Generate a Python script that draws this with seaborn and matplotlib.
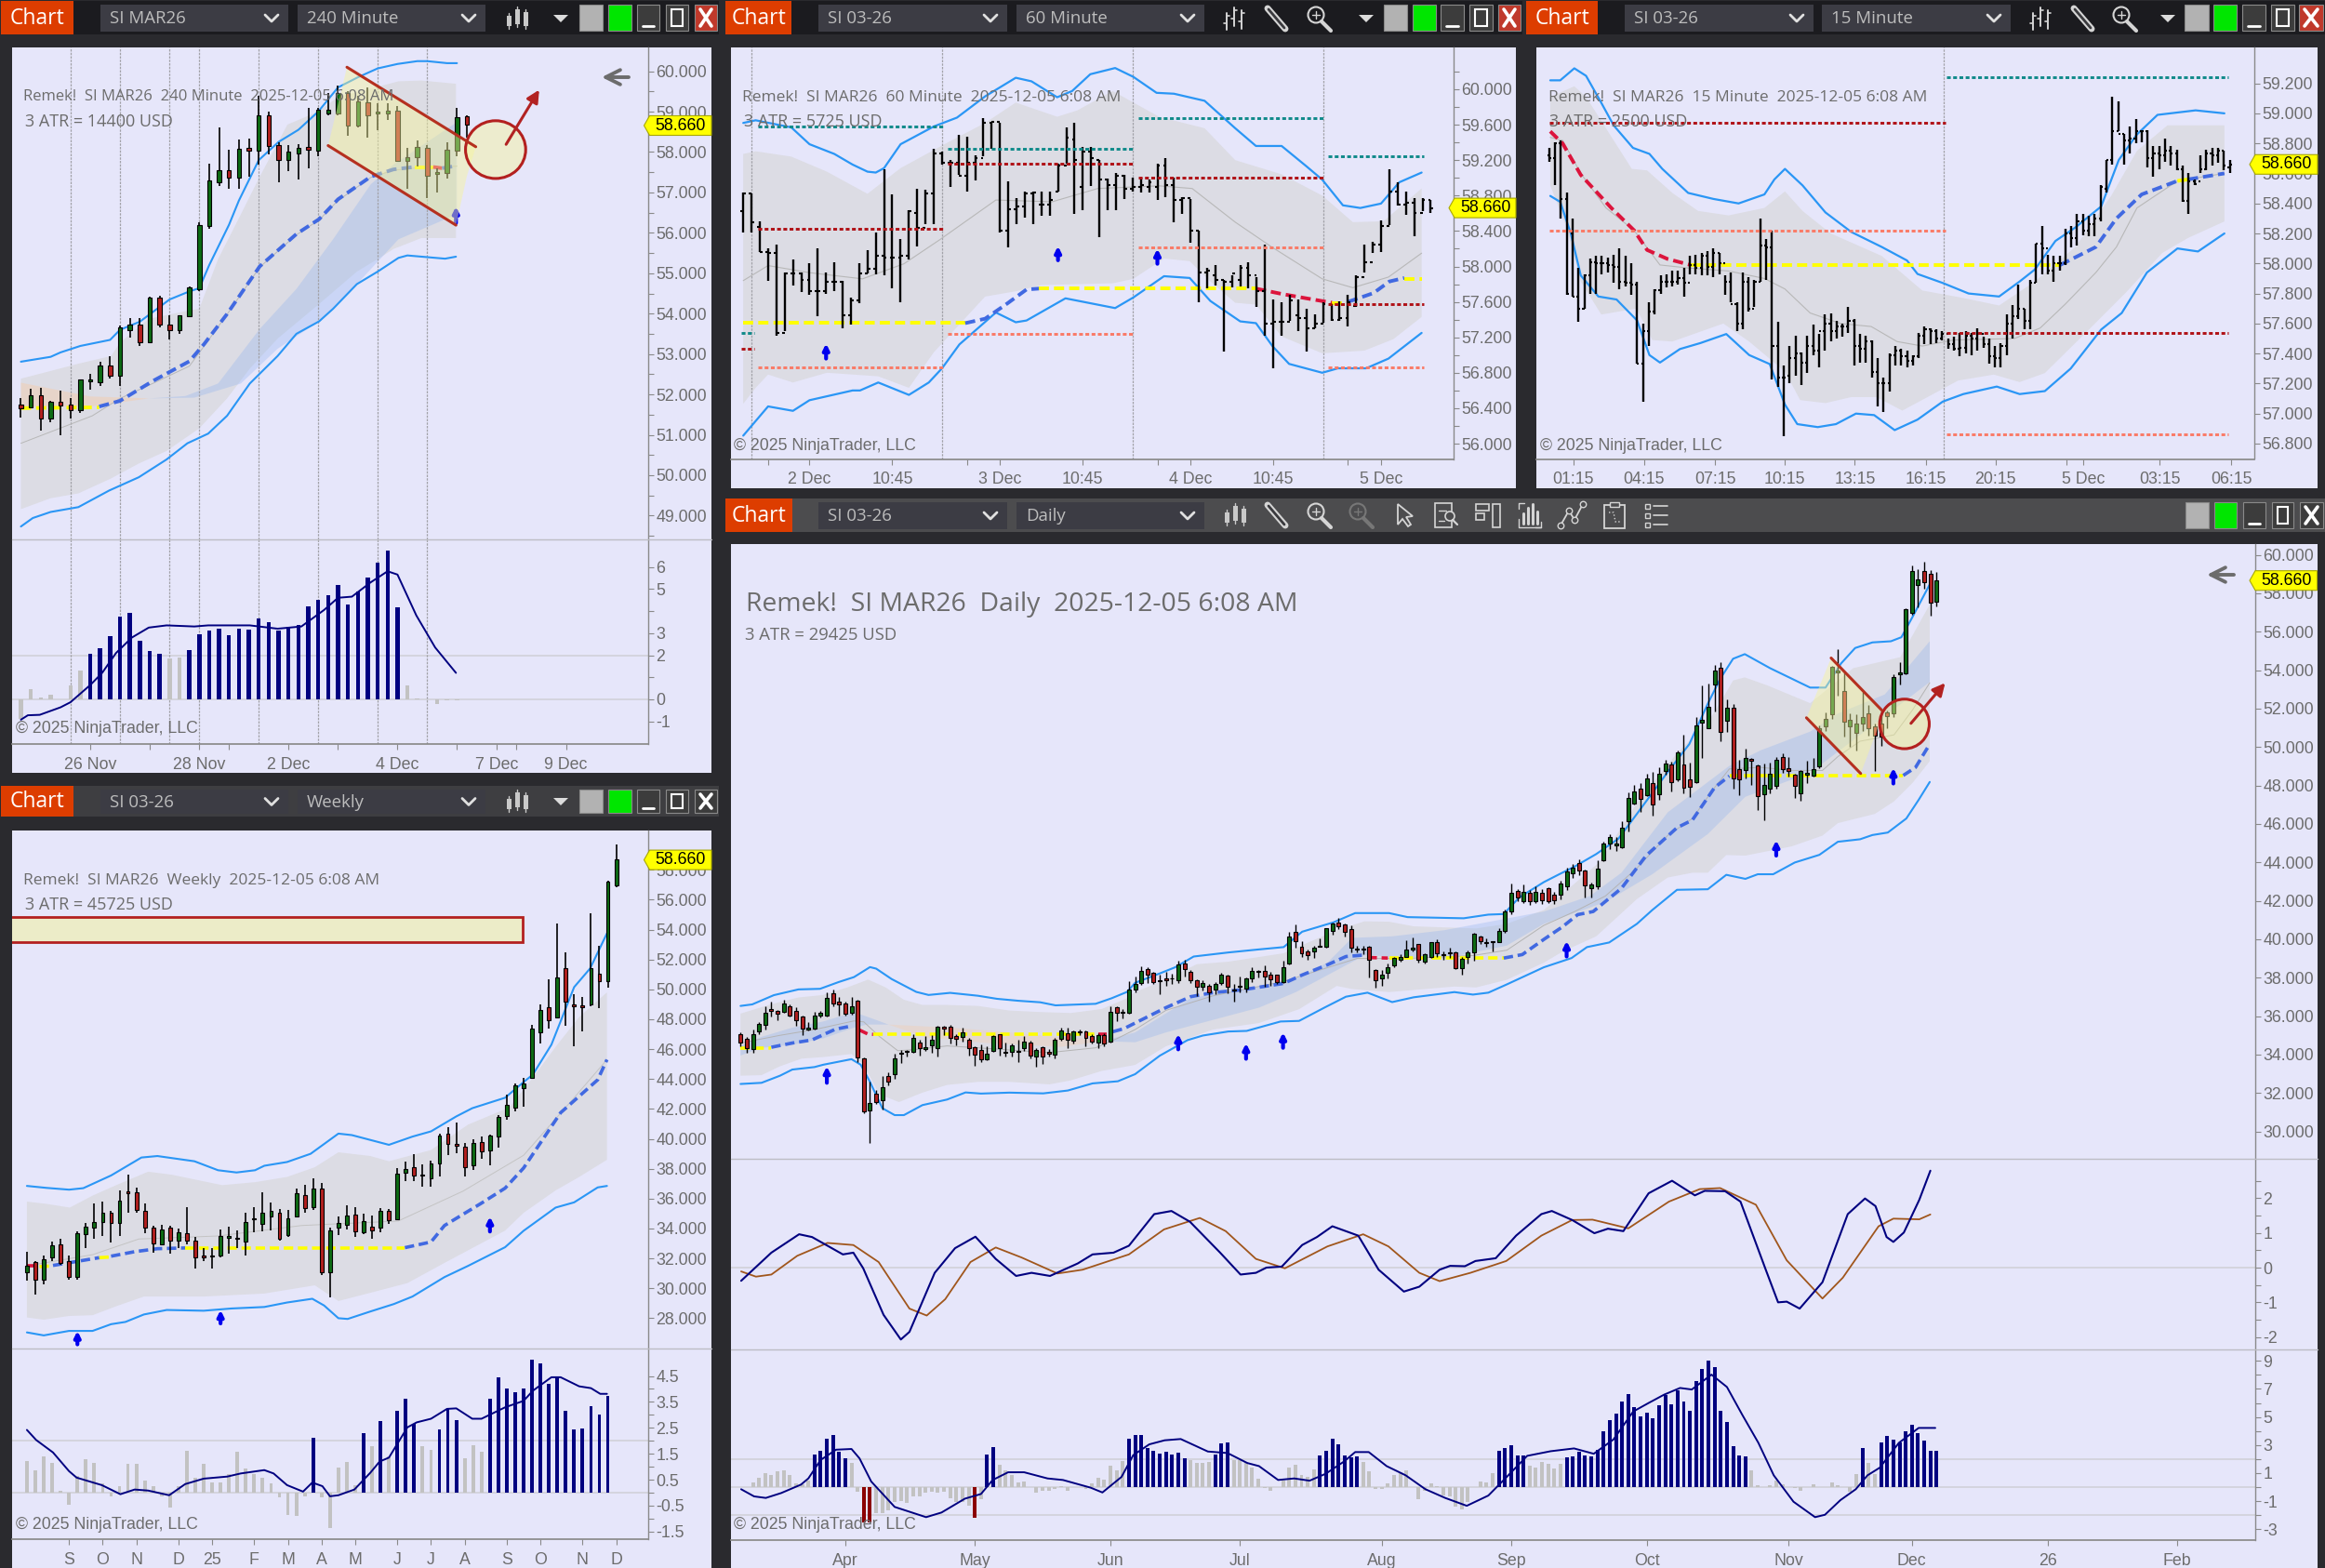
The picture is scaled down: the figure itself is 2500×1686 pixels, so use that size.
import numpy as np
import seaborn as sns
import matplotlib.pyplot as plt
from matplotlib.patches import Rectangle, Polygon, Ellipse
from matplotlib.ticker import FixedLocator, NullLocator

# ---- 240 minute
h4_open = [51.76,51.68,51.98,51.41,51.82,51.75,51.6,52.32,52.3,52.72,52.46,53.58,53.72,53.28,54.4,53.72,53.6,53.93,54.6,56.18,57.25,57.55,57.37,58.1,58.03,58.9,58.17,57.8,57.97,58.12,58.03,58.95,58.95,59.45,58.65,59.22,58.95,58.95,59.03,57.78,57.88,58.1,57.45,57.47,58.03,58.88]
h4_close = [51.65,51.98,51.41,51.82,51.72,51.6,52.37,52.37,52.72,52.46,53.65,53.72,53.28,54.4,53.72,53.6,53.95,54.66,56.2,57.3,57.55,57.37,58.07,58.03,58.9,58.15,57.8,58.0,58.1,58.05,59.05,59.05,59.45,58.65,59.25,58.9,59.0,59.03,57.78,57.88,58.12,57.42,57.5,58.05,58.87,58.68]
h4_high = [51.9,52.13,52.17,51.85,52.1,51.9,52.37,52.5,52.8,52.95,53.7,53.88,53.88,54.42,54.45,53.95,53.97,54.68,56.27,57.72,58.62,58.05,58.32,58.33,59.4,59.0,58.25,58.18,58.2,59.1,59.1,59.45,59.65,59.5,59.4,59.6,59.2,59.2,59.15,58.1,58.28,58.17,57.6,58.25,59.1,58.92]
h4_low = [51.43,51.65,51.1,51.3,50.98,51.4,51.55,52.12,52.2,52.4,52.22,53.4,53.2,53.27,53.65,53.35,53.5,53.93,54.55,56.1,57.15,57.08,57.1,57.38,57.7,57.95,57.25,57.53,57.33,57.6,57.9,58.9,58.9,58.4,58.6,58.35,58.55,58.8,57.75,57.1,57.65,56.85,57.0,57.35,57.9,58.35]
h4_upper_x = [0,3,4,6,9,10,12,15,17,18,19,21,22,24,26,28,30,32,34,36,38,40,41,43,44]
h4_upper = [52.81,52.93,53.04,53.2,53.35,53.6,53.8,54.35,54.55,54.63,55.2,56.2,56.8,57.8,58.25,58.55,59.0,59.6,59.85,60.07,60.18,60.25,60.25,60.2,60.2]
h4_lower_x = [0,1.2,3,5.8,8.9,11.9,14.7,16.8,18.9,20.8,23.1,25.9,27.8,30.1,31.5,33.9,36,38.1,39,40.9,42.8,43.9]
h4_lower = [48.73,48.94,49.09,49.21,49.62,49.95,50.39,50.79,51.03,51.47,52.27,52.95,53.5,53.81,54.12,54.73,55.04,55.38,55.44,55.4,55.36,55.41]
h4_band_up_x = [0,3,5.8,9.1,10,12.9,16.6,18,19.9,22.2,24.1,26.9,30,32,35.3,38.1,40.4,43.9]
h4_band_up = [52.39,52.58,52.76,52.95,53.28,53.87,54.06,54.12,55.35,56.46,57.39,58.68,59.0,59.36,59.57,59.75,59.77,59.69]
h4_band_lo_x = [0,3,5.8,9.1,11.9,14.7,18,20.8,23.1,25.9,30.1,33.9,36,37.6,40.4,43.9]
h4_band_lo = [49.16,49.43,49.55,49.92,50.29,50.6,51.16,51.9,52.64,53.38,54.24,55.04,55.35,55.6,55.87,55.87]
h4_cloud_up_x = [12.9,16.6,19.9,24.1,27.8,31.5,35.3,37.6,44]
h4_cloud_up = [51.9,51.96,52.27,53.62,54.61,55.84,57.2,57.69,58.74]
h4_cloud_lo_x = [12.9,17.5,22.2,25.9,30.1,33.9,38.1,44]
h4_cloud_lo = [51.9,51.92,52.27,53.13,53.81,54.73,55.84,56.46]
h4_peach_x = [0,7,12.9,7,0]
h4_peach = [52.29,51.95,51.9,51.7,51.7]
h4_mid_x = [0,7.2,10,13.3,17,18.5,20.8,24.1,27.8,30.1,32,35.3,37.6,39.7,44]
h4_mid = [50.79,51.47,51.9,52.27,52.7,53.2,53.98,55.15,55.95,56.32,56.8,57.37,57.55,57.6,57.65]
h4_trend = [("y",[0,7.9],[51.66,51.68]),
            ("b",[7.9,10,13.3,17,18.5,20.8,24.1,27.8,30.1,32,35.3,37.6,39.7],[51.7,51.84,52.33,52.82,53.25,53.99,55.17,55.97,56.34,56.83,57.39,57.57,57.63]),
            ("y",[39.7,41.6],[57.63,57.63]),("r",[41.6,42.5],[57.63,57.6]),("b",[42.5,44],[57.6,57.66])]
h4_sessions = [5,10,15,18,24,30,36,41]
h4_arrows = [(43.9,56.65,56.24)]
h4_hist = [-0.9,0.45,0.1,0.2,0,0.65,1.3,2.05,2.3,2.85,3.75,3.9,2.65,2.2,2.05,1.85,1.9,2.25,2.95,3.1,3.2,2.9,3.2,3.15,3.65,3.5,3.1,3.3,3.35,4.2,4.5,4.7,5.2,4.3,4.9,5.5,6.2,6.75,4.15,0.65,0.05,0,-0.2,-0.03,-0.03]
h4_sig_x = [0,0.7,1.9,4,5,7,8.2,9.6,11.2,12.9,14.7,17.5,18.9,23.1,25.9,28.3,30.6,32,33.4,35.3,37,38,39.9,41.8,43.9]
h4_sig = [-0.92,-0.72,-0.7,-0.36,-0.13,0.65,1.2,2.1,2.8,3.25,3.35,3.3,3.35,3.35,3.2,3.3,4.05,4.6,4.65,5.3,5.8,5.65,3.8,2.35,1.2]

# ---- 60 minute
m60_high = [58.83,58.82,58.51,58.2,58.25,57.93,58.08,57.93,58.04,58.2,57.93,58.05,57.84,57.65,58.04,58.18,58.38,59.1,58.81,58.31,58.63,58.88,58.87,59.33,59.3,59.2,59.49,59.46,59.25,59.67,59.63,59.62,58.96,58.77,58.84,58.84,58.84,58.84,59.16,59.57,59.62,59.35,59.35,59.2,58.99,59.05,59.03,59.0,59.0,58.98,59.16,59.22,59.0,58.78,58.76,58.4,57.98,58.02,57.85,57.9,58.02,58.05,57.88,58.25,57.63,57.6,57.68,57.63,57.52,57.46,57.6,57.57,57.61,57.68,57.9,58.25,58.28,58.52,59.1,58.95,58.84,58.77,58.77,58.75]
m60_low = [58.38,58.38,58.16,57.84,57.22,57.27,57.78,57.71,57.68,57.44,57.69,57.72,57.3,57.34,57.59,57.92,57.91,57.9,57.75,57.6,58.08,58.23,58.48,58.48,59.15,58.9,59.03,58.84,58.97,59.24,59.33,58.38,58.21,58.48,58.55,58.48,58.57,58.57,58.84,59.16,58.59,58.63,58.91,58.33,58.63,58.64,58.76,58.85,58.83,58.83,58.75,58.78,58.5,58.59,58.27,57.6,57.75,57.78,57.04,57.76,57.77,57.75,57.54,57.22,56.85,57.22,57.39,57.27,57.04,57.3,57.37,57.39,57.39,57.32,57.54,57.93,58.15,58.16,58.47,58.69,58.58,58.34,58.62,58.6]
m60_open = [58.62,58.82,58.45,58.16,58.15,57.25,57.92,57.92,57.85,57.72,57.72,57.83,57.83,57.45,57.62,57.92,57.97,58.12,58.1,58.1,58.12,58.6,58.44,58.82,59.28,59.17,59.17,59.02,59.17,59.22,59.62,59.63,58.4,58.65,58.68,58.82,58.7,58.7,58.84,59.14,59.43,58.9,59.3,59.2,58.98,58.92,59.02,58.88,58.9,58.9,58.9,59.14,58.92,58.75,58.77,58.4,57.93,57.9,57.85,57.83,57.85,57.98,57.9,57.72,57.35,57.38,57.38,57.45,57.42,57.3,57.35,57.58,57.4,57.42,57.55,57.88,58.05,58.25,58.46,58.85,58.7,58.72,58.6,58.75]
m60_close = [58.82,58.5,58.16,58.15,57.25,57.92,57.92,57.85,57.72,57.72,57.83,57.83,57.45,57.62,57.92,57.97,58.12,58.1,58.1,58.12,58.62,58.44,58.82,59.28,59.17,59.17,59.02,59.17,59.22,59.62,59.63,58.4,58.65,58.68,58.82,58.83,58.7,58.75,59.14,59.45,59.2,59.3,59.22,58.98,58.92,59.02,58.88,58.9,58.92,58.95,59.14,58.92,58.75,58.77,58.4,57.93,57.95,57.85,57.83,57.92,57.98,57.9,57.72,57.35,57.38,57.38,57.62,57.42,57.3,57.35,57.58,57.4,57.42,57.6,57.88,58.05,58.25,58.46,58.85,58.7,58.72,58.6,58.75,58.66]
m60_upper_x = [0,1.5,5.8,8,11,13.2,15,16,17,19,23,25.8,29.2,32.9,34.8,37.9,39.7,41.9,44.9,47.1,49.9,52,55.7,59.4,61.9,65,68,69.9,72.4,74.5,77,79.2,81.9]
m60_upper = [59.62,59.65,59.57,59.38,59.27,59.15,59.07,59.06,59.11,59.38,59.58,59.68,59.92,60.13,60.09,59.91,59.98,60.17,60.24,60.14,59.96,59.95,59.87,59.56,59.36,59.36,59.13,58.98,58.69,58.66,58.71,58.95,59.06]
m60_lower_x = [0,3,6,8,13.2,14.1,16.3,20,22.4,24,26.1,30.5,32.9,34.2,38.9,44.9,47.1,50.8,53.9,56.4,60,61.9,63.9,65.9,69.9,71.8,75.2,77.9,81.9]
m60_lower = [56.09,56.42,56.37,56.49,56.6,56.6,56.69,56.55,56.69,56.85,57.12,57.48,57.37,57.39,57.64,57.53,57.65,57.89,57.87,57.61,57.38,57.36,57.1,56.9,56.8,56.85,56.85,56.96,57.25]
m60_band_up_x = [0,1.5,5.8,10.1,15,19,24.3,29.2,32.9,37.9,40.3,44.6,50.2,55.7,59.4,65,69.9,73.6,77.3,81.9]
m60_band_up = [59.27,59.3,59.24,59.07,58.82,59.11,59.38,59.62,59.85,59.69,59.76,59.98,59.69,59.56,59.2,59.04,58.8,58.5,58.51,58.88]
m60_band_lo_x = [0,1.5,3,6,10.1,16.3,20,23,29.2,32.9,36,44.6,47.1,50.8,53.9,56.4,59.4,61.9,65,69.9,75,78.5,81.9]
m60_band_lo = [56.45,56.63,56.78,56.69,56.8,56.76,56.63,57.03,57.66,57.72,57.79,57.81,57.86,58.09,58.06,57.83,57.59,57.57,57.21,57.02,57.05,57.18,57.43]
m60_mid_x = [0,3,8,14.4,19.4,23.7,30.5,37.3,42.8,50.2,54.2,59.4,63.8,69.9,73.6,77.9,81.9]
m60_mid = [57.84,58.01,57.93,57.86,58.03,58.3,58.75,58.73,58.88,58.91,58.88,58.5,58.22,57.86,57.76,57.88,58.15]
m60_trend = [("y",[0,26.8],[57.36,57.36]),("b",[26.8,29.2,31.7,34.2,35.7],[57.36,57.41,57.57,57.74,57.75]),
             ("y",[35.7,61.9],[57.75,57.75]),("r",[61.9,65,68,71.1],[57.75,57.69,57.64,57.59]),
             ("y",[71.1,73],[57.59,57.59]),("b",[73,76.1,78,79.8],[57.6,57.7,57.83,57.87]),("y",[79.8,81.9],[57.86,57.86])]
m60_levels = [("t",-0.2,1.3,57.25),("d",-0.2,1.3,57.07),
              ("t",1.8,24.3,59.58),("d",1.8,24.3,58.43),("s",1.8,24.3,56.86),
              ("t",24.7,47.2,59.33),("d",24.7,47.2,59.16),("s",24.7,47.2,57.24),
              ("t",47.7,70.2,59.67),("d",47.7,70.2,59.0),("s",47.7,70.2,58.22),
              ("t",70.6,82.2,59.24),("d",70.6,82.2,57.57),("s",70.6,82.2,56.86)]
m60_sessions = [1,24,47,70]
m60_arrows = [(10,57.13,56.96),(38,58.23,58.07),(50,58.2,58.03)]

# ---- 15 minute
m15_high = [58.77,58.81,58.82,58.47,58.3,57.97,57.93,58.03,58.05,58.05,58.04,58.06,58.1,58.05,58.0,57.88,57.6,57.74,57.83,57.92,57.93,57.95,57.95,57.97,58.05,58.06,58.07,58.08,58.1,58.07,57.92,57.94,57.74,57.94,57.91,57.89,58.3,58.16,58.22,57.61,57.32,57.45,57.52,57.41,57.52,57.59,57.53,57.66,57.67,57.62,57.6,57.71,57.63,57.53,57.52,57.49,57.37,57.24,57.4,57.45,57.43,57.42,57.39,57.54,57.58,57.57,57.56,57.55,57.5,57.51,57.54,57.55,57.54,57.57,57.51,57.5,57.45,57.47,57.66,57.72,57.86,57.7,57.89,58.13,58.25,58.06,58.05,58.05,58.23,58.25,58.33,58.33,58.32,58.33,58.52,58.69,59.11,59.08,58.86,58.91,58.96,58.89,58.89,58.78,58.78,58.83,58.78,58.76,58.65,58.6,58.56,58.72,58.76,58.77,58.77,58.75,58.69]
m15_low = [58.68,58.52,58.3,57.79,57.78,57.61,57.7,57.8,57.8,57.93,57.94,57.87,57.83,57.85,57.79,57.33,57.08,57.45,57.66,57.8,57.84,57.85,57.86,57.78,57.93,57.93,57.92,57.92,57.91,57.93,57.79,57.74,57.55,57.56,57.68,57.71,57.88,57.89,57.23,57.18,56.85,57.2,57.25,57.19,57.27,57.39,57.31,57.42,57.48,57.5,57.51,57.54,57.32,57.34,57.34,57.24,57.05,57.01,57.15,57.32,57.32,57.31,57.32,57.37,57.46,57.46,57.47,57.49,57.43,57.42,57.38,57.4,57.39,57.42,57.44,57.33,57.31,57.31,57.39,57.5,57.63,57.56,57.56,57.87,57.93,57.93,57.88,57.95,57.99,58.11,58.12,58.19,58.18,58.18,58.28,58.47,58.66,58.88,58.66,58.73,58.8,58.81,58.64,58.58,58.63,58.68,58.65,58.62,58.41,58.33,58.52,58.6,58.62,58.65,58.67,58.62,58.6]
m15_open = [58.72,58.7,58.8,58.43,58.2,57.78,57.7,57.92,58.01,58.0,58.0,57.99,57.98,57.88,57.87,57.86,57.33,57.55,57.68,57.82,57.88,57.88,57.88,57.9,57.87,57.99,57.97,58.05,57.98,58.07,58.0,57.88,57.73,57.6,57.88,57.7,57.88,58.12,58.11,57.45,57.24,57.25,57.37,57.4,57.34,57.45,57.42,57.55,57.6,57.55,57.58,57.58,57.62,57.45,57.43,57.48,57.28,57.2,57.2,57.39,57.42,57.38,57.35,57.38,57.52,57.56,57.55,57.5,57.53,57.46,57.43,57.44,57.52,57.5,57.53,57.46,57.38,57.37,57.45,57.6,57.65,57.7,57.62,57.87,58.13,58.1,57.95,58.0,58.0,58.2,58.17,58.28,58.22,58.26,58.3,58.5,58.69,58.88,58.86,58.82,58.83,58.88,58.88,58.7,58.73,58.72,58.75,58.73,58.63,58.42,58.55,58.55,58.63,58.73,58.72,58.75,58.64]
m15_close = [58.7,58.8,58.43,57.8,57.78,57.7,57.92,58.01,58.0,58.0,57.99,57.98,57.88,57.87,57.86,57.33,57.55,57.68,57.82,57.88,57.88,57.88,57.9,57.87,57.99,57.97,58.05,57.98,58.07,58.0,57.88,57.73,57.6,57.88,57.7,57.88,58.12,58.11,57.45,57.24,57.24,57.37,57.4,57.34,57.45,57.42,57.55,57.6,57.55,57.58,57.58,57.62,57.45,57.43,57.48,57.28,57.2,57.2,57.39,57.42,57.38,57.35,57.38,57.52,57.56,57.55,57.5,57.53,57.46,57.43,57.44,57.52,57.5,57.53,57.46,57.38,57.37,57.45,57.6,57.65,57.7,57.62,57.87,58.13,58.1,57.95,58.0,58.0,58.2,58.17,58.28,58.22,58.26,58.3,58.51,58.69,58.88,58.86,58.82,58.83,58.88,58.88,58.7,58.73,58.72,58.75,58.73,58.63,58.42,58.55,58.53,58.63,58.73,58.72,58.75,58.65,58.66]
m15_upper_x = [0.2,1.9,4.3,6.3,8.9,11,14.3,17.1,19.3,23.7,28,32.3,36.7,38.4,40.2,43.2,47.1,51.5,56.7,61,62.8,67.1,71.5,76.7,80.2,82.8,86.3,89.7,94.1,97.1,100.2,103.7,110.2,115.1]
m15_upper = [59.22,59.22,59.3,59.25,59.07,58.92,58.77,58.73,58.63,58.47,58.43,58.4,58.46,58.56,58.63,58.52,58.34,58.21,58.11,58.02,57.93,57.87,57.8,57.78,57.88,57.96,58.15,58.24,58.38,58.69,58.86,58.99,59.02,59.0]
m15_lower_x = [0.2,1.9,3.7,5.4,8.4,11.5,15,17.1,18.9,22.3,25.8,30.2,34.1,37.6,40.2,42.3,45.8,48.9,52.3,55.4,58.9,62.8,67.1,70.6,76.3,80.2,84.5,88.9,94.1,97.6,101.9,107.1,110.6,115.1]
m15_lower = [58.45,58.41,58.2,57.92,57.78,57.76,57.62,57.39,57.34,57.43,57.47,57.53,57.39,57.33,57.06,56.93,56.91,56.93,57.0,56.99,56.89,56.96,57.08,57.13,57.18,57.13,57.15,57.3,57.56,57.67,57.94,58.1,58.08,58.2]
m15_band_up_x = [0.2,4.3,6.3,9.7,14.1,16.7,21,25.4,30.6,36.7,40.2,43.2,48,56.7,63.6,70.6,76.7,82.8,89.7,95.8,100.2,105.4,115.1]
m15_band_up = [59.11,59.18,59.11,58.9,58.63,58.62,58.47,58.35,58.32,58.37,58.48,58.35,58.2,58.05,57.82,57.77,57.72,57.88,58.11,58.45,58.75,58.92,58.92]
m15_band_lo_x = [0.2,2.8,5.4,8.9,14.9,17.6,21,29.7,34.1,40.2,42.8,47.1,51.5,55.8,60.2,64.5,69.7,75.8,80.2,84.5,91.5,98.4,104.5,108.9,115.1]
m15_band_lo = [58.52,58.26,57.88,57.66,57.7,57.49,57.48,57.6,57.48,57.28,57.09,57.07,57.11,57.11,57.02,57.11,57.22,57.26,57.21,57.27,57.54,57.81,58.07,58.17,58.28]
m15_mid_x = [0.2,2.3,5.4,9.7,14.5,18.9,23.7,30.6,36.7,40.2,44.5,49.7,54.9,59.3,63.6,68.9,79.3,83.7,88,93.2,96.7,100.2,107.1,115.1]
m15_mid = [58.84,58.82,58.6,58.37,58.22,57.99,57.97,57.95,57.9,57.83,57.67,57.6,57.58,57.48,57.45,57.49,57.5,57.57,57.73,57.94,58.11,58.37,58.55,58.6]
m15_trend = [("r",[0.2,2.3,5.4,10.6,14.5,16.7,20.2,24.1],[58.88,58.8,58.59,58.37,58.22,58.09,58.03,57.99]),
             ("y",[24.1,87.1],[57.99,57.99]),("b",[87.1,93.2,96.7,101,107.1],[57.99,58.11,58.3,58.46,58.55]),
             ("y",[107.1,108.9],[58.55,58.56]),("b",[108.9,115.1],[58.56,58.6])]
m15_levels = [("d",0,67.6,58.94),("s",0,67.6,58.22),("t",67.8,115.7,59.24),("d",67.8,115.7,57.54),("s",67.8,115.7,56.86)]
m15_sessions = [67.2]

# ---- weekly
wk_open = [31.09,31.75,30.57,32.1,32.93,31.85,30.75,33.63,34.03,34.45,35.03,34.35,36.48,36.45,35.2,34.03,32.95,34.03,33.2,33.7,33.2,32.2,32.2,32.18,33.35,33.4,33.15,34.6,34.3,34.82,35.05,33.55,34.8,36.25,35.4,36.65,31.1,34.05,34.25,34.95,33.75,34.15,34.05,35.15,34.65,37.75,38.1,37.6,37.35,38.35,40.35,39.65,39.5,38.25,39.8,39.2,40.15,41.55,42.1,43.4,44.1,47.15,48.8,48.1,51.4,49.0,48.95,49.0,51.05,50.55,56.95]
wk_close = [31.49,30.6,31.95,32.9,31.7,30.75,33.7,34.13,34.45,35.03,34.35,35.85,36.37,35.27,34.03,33.0,33.95,33.2,33.78,33.2,32.1,32.1,32.15,33.5,33.5,33.3,34.45,34.67,35.05,35.2,33.3,34.7,36.35,35.35,36.65,31.1,33.85,34.4,34.9,33.8,34.5,33.85,35.15,34.55,37.7,37.95,37.55,37.55,38.35,40.2,39.65,39.55,38.1,39.75,39.15,40.25,41.45,42.25,43.55,43.7,47.35,48.65,47.95,50.8,49.2,48.85,48.8,51.4,50.55,57.2,58.7]
wk_high = [32.43,31.85,32.2,33.1,33.3,32.2,33.8,34.35,35.65,35.8,35.2,36.55,37.6,36.75,35.65,34.2,34.25,34.2,34.0,35.4,33.45,32.7,32.7,33.95,34.15,33.9,35.05,35.4,36.4,35.75,35.3,35.25,36.65,36.9,37.35,37.05,34.05,34.8,35.55,35.4,35.0,34.9,35.35,35.3,38.05,38.5,38.95,38.3,38.55,40.35,40.75,41.1,39.7,40.0,40.15,40.3,41.6,42.95,43.7,44.05,47.65,49.0,50.65,54.4,52.5,49.65,49.5,55.1,52.9,57.25,59.7]
wk_low = [30.52,29.6,30.27,31.85,31.6,30.6,30.6,32.7,33.3,33.5,33.05,33.5,35.05,35.05,33.7,32.35,32.85,32.3,32.7,32.95,31.3,31.85,31.35,32.1,32.3,32.7,32.2,33.75,33.8,33.85,33.2,33.45,34.75,35.05,35.25,30.9,29.4,33.55,33.95,33.45,33.6,33.3,33.75,34.3,34.55,37.15,37.15,36.8,36.8,37.5,38.9,39.05,37.5,37.9,38.65,38.2,39.4,41.25,41.85,42.15,44.05,46.4,47.4,48.05,47.55,46.2,47.2,48.9,48.75,50.1,56.85]
wk_upper_x = [0,2.3,5,6.7,10,13.6,15.5,19.9,22.7,24.9,27.1,28.2,30.9,33.7,37,38.6,43,45.8,48,51,52.9,56.8,59,60.1,62.3,65,66.9,68.9]
wk_upper = [36.85,36.72,36.6,36.7,37.55,38.75,38.85,38.5,37.9,37.75,37.9,38.2,38.45,39.0,40.35,40.25,39.6,40.15,40.5,41.5,42.05,42.75,43.8,44.3,46.3,50.15,51.4,53.75]
wk_lower_x = [0,2,5,7.8,10,11.7,13.9,16.6,21,24.3,28.2,30.9,33.9,35.3,37,38.1,40.8,43.6,45.8,49.6,52.4,56.8,59,62.8,65,67.8,68.9]
wk_lower = [27.05,26.85,27.15,27.15,27.6,27.75,28.25,28.55,28.5,28.65,28.75,29.05,29.3,28.85,28.0,27.95,28.45,28.95,29.45,30.75,31.5,32.75,33.85,35.4,35.75,36.75,36.85]
wk_band_up_x = [0,2.3,5.1,7.8,10.6,14.4,17.2,23.2,27.1,30.9,34.2,37,40.8,43,48,52.4,57.3,60.1,62.8,65.6,68.9]
wk_band_up = [35.8,35.65,35.4,36.2,36.9,37.8,37.6,36.9,37.1,37.45,38.1,39.1,38.85,38.5,39.25,40.95,42.1,44.1,46.15,48.15,49.8]
wk_band_lo_x = [0,2,5,7.8,10.6,13.9,21,28.2,34.2,37,40.8,45.2,49.6,56.8,59,62.8,65.6,68.9]
wk_band_lo = [28.05,27.9,28.15,28.2,28.8,29.45,29.45,29.65,30.2,29.15,29.7,30.35,31.7,33.86,35.05,36.55,37.45,38.6]
wk_mid_x = [0,7.8,13.3,22.7,32.6,44.1,51.8,59,65,68.9]
wk_mid = [31.5,32.25,33.3,33.5,34.2,34.5,36.5,38.9,42.75,45.3]
wk_trend = [("r",[0,1],[31.5,31.5]),("y",[1.5,3.1],[31.45,31.5]),("b",[3.1,8.6],[31.53,32.05]),("y",[8.6,10],[32.05,32.1]),
            ("b",[10,12.8,15.5,18.8],[32.15,32.45,32.65,32.7]),("y",[18.8,44.9],[32.7,32.7]),
            ("b",[44.9,48,49.6,54,56.8,59,61.2,63.4,66.1,67.8,68.9],[32.72,33.1,34.2,35.7,36.7,38.05,39.9,41.75,43.1,43.95,45.3])]
wk_arrows = [(6,27.15,26.25),(23,28.55,27.65),(55,34.8,33.8)]
wk_hist = [1.22,0.87,1.41,1.14,0.06,-0.48,0.64,1.3,1.14,0.35,-0.14,0.25,1.12,1.12,0.45,0.25,-0.14,-0.58,0.25,1.6,0.56,1.1,0.39,0.39,0.72,1.59,0.93,0.72,0.56,0.35,-0.19,-0.87,-0.91,-0.14,2.13,-0.19,-1.35,0.97,1.2,0.29,2.28,1.8,2.77,1.39,3.15,3.62,2.65,1.8,1.65,2.42,3.23,2.81,1.34,1.84,1.57,3.62,4.45,4.0,3.87,4.0,5.13,4.99,4.2,4.45,3.14,2.42,2.48,3.35,3.0,3.73]
wk_sig_x = [0,1.1,3.1,5,5.9,8.9,11.1,12.8,14.4,16.9,18.8,21,23.8,25.4,28.2,29.3,30.9,32.8,33.9,35.1,36,37,38.9,40.8,41.9,43,45.2,46.3,48,49.9,51,52.9,54,56.8,59,60.1,62.3,63.4,65.6,67,68.1,68.9]
wk_sig = [2.42,2.03,1.55,0.83,0.58,0.29,-0.06,0.12,0.08,-0.1,0.33,0.54,0.62,0.74,0.87,0.74,0.29,0.04,0.39,0.25,-0.14,-0.1,0.12,0.77,1.2,1.35,2.52,2.71,2.85,3.23,3.25,2.85,2.85,3.29,3.54,3.93,4.45,4.45,4.1,4.03,3.81,3.81]

# ---- daily
d_open = [35.08,34.84,34.27,35.22,35.56,36.37,36.29,36.21,36.5,36.29,36.0,35.3,35.35,36.05,36.05,37.18,36.74,36.64,36.18,36.82,33.82,31.1,31.97,31.64,32.87,32.98,34.03,34.19,34.14,34.64,34.27,34.48,34.32,35.45,35.43,34.97,34.92,34.77,34.38,34.22,33.76,34.19,35.05,34.16,34.13,34.19,34.32,34.64,33.92,34.38,34.13,34.0,34.81,35.13,34.71,35.21,35.21,34.95,34.63,35.0,34.68,36.48,36.16,36.16,37.37,
 37.7,38.46,38.25,37.89,37.98,37.96,37.87,38.73,38.31,37.89,37.54,37.6,37.38,37.7,38.12,37.38,37.52,37.41,37.94,38.35,38.35,38.18,38.14,37.77,38.73,40.36,39.6,39.35,39.35,39.62,39.59,40.44,40.88,40.76,40.51,39.44,39.52,39.59,38.38,37.98,38.25,38.62,38.94,39.09,39.47,39.75,38.83,39.07,39.83,39.23,39.26,39.31,38.51,39.09,39.3,40.12,39.86,39.91,39.86,40.44,41.44,
 42.5,42.0,42.4,42.0,42.4,
 42.65,42.3,42.33,42.73,43.41,43.94,43.57,42.68,42.76,44.09,44.99,44.86,44.8,46.15,47.05,47.84,47.49,48.1,47.54,48.75,49.1,48.3,49.1,48.34,48.18,51.28,51.0,53.26,54.1,51.36,52.05,48.83,48.81,49.38,49.02,47.52,47.81,47.97,49.46,48.92,48.57,47.57,48.54,48.5,48.97,51.09,51.71,53.86,52.89,51.07,50.72,51.23,51.73,51.09,51.2,51.81,51.73,53.78,53.81,56.97,58.42,59.15,58.99,57.54]
d_close = [34.64,34.35,35.05,35.61,36.16,36.29,36.13,36.68,36.05,35.8,35.35,35.4,36.05,36.16,36.97,36.64,36.61,36.13,36.53,33.84,31.06,31.5,31.53,32.29,32.61,33.79,34.11,34.14,34.89,34.35,34.38,34.79,35.43,35.35,34.87,34.84,35.16,34.35,34.0,33.76,34.06,34.97,34.35,34.08,34.48,34.16,34.68,33.95,34.25,33.9,34.06,34.79,35.24,34.79,35.19,35.16,34.87,34.68,35.0,34.56,36.24,36.18,36.22,37.37,37.68,
 38.35,38.14,37.77,37.81,37.87,37.94,38.7,38.44,37.86,37.54,37.73,37.25,37.65,38.18,37.54,37.35,37.6,37.96,38.33,38.28,38.06,37.93,37.77,38.54,40.15,39.91,39.28,39.15,39.57,39.67,40.56,40.8,40.68,40.39,39.54,39.5,39.46,38.94,37.89,38.17,38.54,39.05,39.1,39.47,39.54,38.94,39.22,39.83,39.27,39.17,39.3,38.49,38.99,39.3,40.27,39.89,39.8,39.86,40.44,41.47,42.41,
 42.15,42.45,42.0,42.45,42.05,
 41.96,42.01,42.89,43.54,43.7,43.57,42.81,42.84,43.65,44.96,45.34,45.0,45.8,47.36,47.7,47.28,48.38,47.02,48.63,49.13,48.18,49.7,47.86,47.93,51.12,51.43,52.07,53.99,50.8,52.05,48.38,48.34,49.42,49.27,47.44,48.02,48.62,49.31,48.83,48.73,47.96,48.73,48.65,48.86,51.0,51.44,54.18,53.97,51.33,51.39,51.2,51.55,51.0,50.59,50.52,51.6,53.62,53.86,57.17,59.15,58.73,58.58,57.49,58.65]
d_high = [35.16,34.92,35.29,35.68,36.53,36.74,36.32,36.85,36.61,36.45,36.03,35.67,36.21,36.29,37.26,37.37,37.01,36.77,36.98,36.85,33.87,32.61,32.18,32.9,33.06,34.06,34.24,34.26,35.05,34.76,34.97,35.0,35.51,35.51,35.56,35.05,35.39,34.89,34.43,34.51,34.43,35.03,35.08,34.64,34.56,34.76,34.97,34.71,34.35,34.43,34.27,34.87,35.4,35.42,35.24,35.29,35.24,35.08,35.11,35.1,36.5,36.53,36.37,37.82,38.06,
 38.57,38.54,38.3,38.18,38.3,38.19,38.86,38.93,38.38,37.93,37.86,37.69,37.77,38.27,38.17,37.65,38.06,38.02,38.54,38.38,38.62,38.3,38.18,38.86,40.39,40.77,39.91,39.46,39.67,40.02,40.56,40.88,41.09,40.83,40.72,39.67,39.64,39.64,38.46,38.41,38.73,39.1,39.22,39.94,40.07,39.75,39.27,39.86,39.99,39.35,39.54,39.38,39.06,39.4,40.31,40.18,40.02,39.91,40.56,41.52,42.9,
 42.6,42.85,42.55,42.75,42.6,
 42.7,42.44,43.02,43.73,43.89,44.14,43.62,42.93,44.1,45.07,45.47,45.31,46.15,47.62,48.05,48.1,48.62,48.7,48.94,49.31,49.22,49.83,50.63,49.18,51.57,53.21,53.3,54.26,54.42,52.49,52.25,49.34,49.91,49.42,49.1,49.15,49.18,49.47,49.67,49.5,48.62,48.78,49.3,49.42,51.12,51.81,54.21,55.07,53.86,51.76,51.68,52.86,52.2,51.2,51.89,51.89,53.78,54.42,57.21,59.42,59.26,59.63,59.18,59.1]
d_low = [34.43,34.11,34.08,35.06,35.29,35.97,35.8,36.18,35.97,35.48,35.03,35.24,35.29,35.93,36.0,36.53,36.05,36.05,36.1,33.63,30.97,29.42,31.42,31.13,32.42,32.74,33.55,33.9,34.08,33.95,34.19,34.11,33.9,35.0,34.6,34.47,34.68,33.95,33.42,33.63,33.71,34.16,33.95,33.92,33.9,33.63,34.19,33.79,33.35,33.51,33.92,33.79,34.71,34.32,34.6,35.0,34.43,34.56,34.35,34.43,34.64,35.72,35.89,36.13,37.26,
 37.64,37.73,37.65,37.12,37.6,37.68,37.73,38.06,37.7,37.04,37.33,36.73,37.14,37.62,37.17,36.77,37.22,37.25,37.78,38.02,37.52,37.6,37.67,37.7,38.67,39.54,39.07,38.91,39.02,39.6,39.54,40.23,40.55,40.15,39.31,39.31,39.22,38.02,37.49,37.6,37.98,38.54,38.83,39.06,39.35,38.78,38.73,39.02,39.07,38.94,39.05,38.46,38.14,38.73,38.89,39.75,39.59,39.35,39.83,40.35,41.28,
 42.0,41.9,41.8,41.9,41.85,
 41.89,41.85,42.06,42.57,43.18,43.35,42.17,42.18,42.62,44.06,44.67,44.57,44.75,45.6,46.99,46.63,47.44,46.41,47.25,48.57,47.7,48.22,47.6,47.41,48.13,49.42,50.96,51.84,50.31,50.76,47.81,47.49,48.35,48.05,46.73,46.2,47.6,47.81,48.65,48.46,47.36,47.22,48.1,48.46,48.91,50.84,51.44,52.68,50.55,50.02,49.8,50.83,50.6,48.73,50.07,50.99,51.57,53.25,53.78,56.89,57.25,58.21,56.84,57.33]
d_upper_x = [0,1.9,5.4,9.4,12.9,15.9,18.4,21,22,24.5,28.5,30.5,34,38.5,41.6,45,48.6,51.1,57.6,60.2,62.7,64,68,70.5,73.5,79.1,84.1,88.1,91.1,96.2,99.7,105.2,108.2,117.3,121.3,123.8,126.3,130.3,132.8,135.3,138.8,142.4,145.4,150.4,153.9,156.9,158.9,161,162.9,167,173.5,176,178.5,180.8,183.6,186.6,188.3,190.1,192.9]
d_upper = [36.53,36.61,37.09,37.39,37.42,37.77,38.03,38.55,38.47,37.93,37.26,37.1,37.21,37.06,36.9,36.8,36.72,36.56,36.64,36.93,37.26,37.73,38.22,38.54,39.1,39.31,39.47,39.59,40.39,40.88,41.36,41.36,41.15,41.09,41.28,41.31,42.17,42.97,43.38,43.78,44.43,45.23,46.52,48.7,50.15,52.25,53.54,54.59,54.83,54.1,53.09,53.09,54.34,55.15,55.44,55.5,55.71,56.76,58.46]
d_lower_x = [0,3.4,6.4,8.4,12,13.4,18,19.5,21,23,25,26.5,29.5,33.5,36.5,39,43.6,49.1,53.1,57.1,61.2,64,68,72.5,75,79.1,82.1,87.6,90.6,94.7,98.2,101.7,105.7,109.2,115.8,118.8,121.3,124.3,130.3,134.8,137.3,140.9,145.4,147.9,151.9,156.9,159.9,163,165,167.5,171,175,178,181.6,183.6,186.1,189.1,191.1,192.9]
d_lower = [32.47,32.53,32.9,33.22,33.35,33.47,33.76,33.47,32.58,31.21,30.85,30.85,31.37,31.66,32.03,31.97,32.02,31.98,32.13,32.5,32.61,32.98,33.94,34.75,34.99,35.2,35.23,35.72,35.75,36.44,37.01,37.22,36.73,36.98,37.25,37.12,37.22,37.65,38.54,39.02,39.59,39.83,40.8,41.52,42.57,42.6,43.35,43.14,43.38,43.38,43.99,44.39,45.07,45.2,45.42,45.55,46.28,47.25,48.18]
d_band_up_x = [0,4.9,9.4,13.4,17.4,20.7,23.5,26.5,29.5,33.5,38.5,43.6,48.6,53.6,58.6,62.7,64,69,74,79.1,88.1,92.1,96.7,101.2,105.2,109.2,119.3,124.3,130.3,139.3,145.4,151.9,156.9,159.4,161,162.9,166.5,173.5,180.5,188.1,190.1,192.9]
d_band_up = [36.13,36.61,36.97,37.1,37.5,37.9,37.5,36.85,36.58,36.58,36.53,36.29,36.21,36.16,36.37,36.93,37.25,37.9,38.7,38.83,39.27,39.83,40.47,40.93,40.91,40.67,40.56,40.8,41.52,44.0,47.09,49.67,51.28,52.57,53.46,53.62,53.21,52.28,54.1,54.67,55.8,57.41]
d_band_lo_x = [0,3.4,6.4,9.9,13.4,18,20,22.5,25.7,29.5,33.5,38.5,43.6,50.1,53.6,58.6,64,69,76.6,84.1,90.6,96.7,99.2,105.2,115.8,119.3,124.3,130.3,133.3,138.8,145.4,150.4,154.4,156.9,159.9,163,170.5,175.5,178,184,187.1,190.1,192.9]
d_band_lo = [32.9,32.93,33.39,33.79,33.87,34.03,33.47,31.93,31.53,32.02,32.42,32.58,32.58,32.45,32.66,33.15,33.46,34.43,35.3,35.64,36.36,37.57,37.41,37.25,37.54,37.49,37.89,38.78,39.35,40.15,42.09,43.21,43.46,43.46,44.38,44.35,44.83,45.39,46.04,46.52,47.17,48.13,49.26]
d_cloud1_up_x = [0,3.4,8.4,13.4,18.4,22,24]
d_cloud1_up = [34.43,34.92,35.4,35.72,36.21,35.8,35.56]
d_cloud1_lo_x = [0,3.4,8.4,13.4,18.4,20.5,24]
d_cloud1_lo = [33.95,34.35,34.51,34.84,35.4,35.56,35.56]
d_cloud2_up_x = [58.6,64,73,81.6,89.1,95.2,99.2,105.7,114.2,130.3,137.8,142.9,150.4,160.4,165.5,173.5,178,185.6,192.9]
d_cloud2_up = [34.7,35.15,36.93,37.41,37.81,38.78,40.07,40.15,40.47,41.44,42.25,43.46,46.6,49.02,49.83,50.8,51.74,52.73,55.5]
d_cloud2_lo_x = [58.6,64,69,76.6,84.1,90.1,96.2,101.4,105.2,114.2,124.3,130.3,140.3,147.9,156.9,163,170.5,174.5,185.6,192.9]
d_cloud2_lo = [34.7,34.64,35.15,35.8,36.44,37.25,38.3,39.19,39.1,39.0,39.67,40.8,41.93,43.38,45.47,47.41,48.3,48.9,51.6,53.38]
d_peach_x = [24,34,42,52,60,52,40,30]
d_peach = [35.56,35.4,35.2,34.9,34.75,34.4,34.6,34.9]
d_mid_x = [0,6.4,12,18.4,20,22.5,25.5,28,33.5,38.5,50,57.6,61.2,64,69,76.6,88,100,108,118.8,124.3,130.3,135.3,140.3,145.4,150.4,154.4,158,160.4,165.5,170.5,175.5,178,181.6,187.1,190.1,192.9]
d_mid = [34.6,35.0,35.3,35.75,35.7,34.95,34.2,34.25,34.45,34.35,34.1,34.35,34.85,35.3,36.3,37.05,37.8,39.0,39.0,39.15,39.43,40.72,41.44,42.25,43.7,45.4,46.28,47.89,48.86,48.94,48.78,48.78,49.5,50.3,50.63,51.92,53.34]
d_trend = [("y",[0,5],[34.35,34.35]),("b",[5,8.4,11.6,13.4,15.4,17.9],[34.38,34.6,34.76,35.03,35.32,35.48]),
           ("r",[19.2,20.7,21.5],[35.29,35.06,35.05]),("y",[21.5,58],[35.05,35.05]),("r",[58,59.4],[35.05,35.05]),
           ("b",[60.4,62.2,64,69,73,76.6,81.6,88.1,91.1,95.2,98.2,101.2],[35.19,35.35,35.64,36.44,37.01,37.22,37.38,37.7,38.14,38.67,39.1,39.18]),
           ("r",[101.7,105],[39.05,39.02]),("y",[105.2,123.8],[39.02,39.02]),
           ("b",[123.8,126.8,130.3,133.3,135.8,138.3,142.9,146.9,151.9,154.4,158,160.4],[39.02,39.2,39.99,40.64,41.28,41.44,42.65,44.35,45.8,46.2,47.89,48.49]),
           ("y",[160.4,188.6],[48.52,48.52]),("b",[188.6,190.6,192.9],[48.52,48.94,50.15])]
d_arrows = [(14,33.39,32.53),(71,35.07,34.27),(82,34.59,33.78),(88,35.15,34.35),(134,39.91,39.1),(168,45.15,44.35),(187,48.91,48.1)]
d_macd_x = [0.1,5,9.5,11.6,16.6,18.3,19.9,23.2,26,27.4,31.5,34.8,38.1,41.4,44.7,47.2,50.2,54.7,57.1,60.5,63,67.1,69.9,72.9,77.8,81.1,83.6,85.3,87.8,91.1,93.5,96,100.2,103.5,107.6,110.1,113.4,115.1,117.5,119.2,122.5,125.8,129.9,131.6,134.9,138.5,140.7,143.2,147.3,151.1,154.8,156.4,159.7,162.2,166.3,168.3,169.7,171.8,175.5,179.6,182.4,184.1,185.9,187,188.7,191.2,193]
d_macd = [-0.38,0.43,0.96,0.88,0.38,0.43,-0.02,-1.36,-2.07,-1.85,-0.15,0.56,0.89,0.25,-0.24,-0.15,-0.24,0.12,0.38,0.43,0.63,1.54,1.63,1.32,0.43,-0.2,-0.15,0,0.03,0.65,0.88,1.19,0.92,-0.06,-0.69,-0.55,-0.06,0.05,0.04,0.19,0.27,0.92,1.54,1.63,1.37,0.99,1.12,1.05,2.14,2.5,2.08,2.21,2.2,1.9,-0.06,-1.0,-0.98,-1.18,-0.42,1.54,1.99,1.77,0.88,0.74,1.01,1.95,2.79]
d_macd_sig_x = [0.1,2.5,5,9.2,14.1,18.3,22.4,27.4,30.2,33.2,37.3,41.4,45.6,51.4,55.5,63,68.7,74.5,78.7,83.6,88.3,95.2,101,105.1,110.1,113.4,118.4,124.2,129.9,134.9,138.2,144,150.6,155.6,158.9,164.7,169.7,175.5,178.8,184.6,187,191.2,193]
d_macd_sig = [-0.11,-0.26,-0.2,0.34,0.71,0.65,0.16,-1.18,-1.38,-0.91,0.16,0.58,0.29,-0.17,-0.06,0.38,1.1,1.43,1.05,0.25,-0.02,0.61,0.96,0.61,-0.15,-0.39,-0.15,0.19,0.92,1.37,1.38,1.13,1.9,2.26,2.29,1.81,0.21,-0.89,-0.29,1.19,1.41,1.39,1.53]
d_hist = [0,0.02,0.33,0.66,1.0,0.88,1.1,1.2,0.88,0.29,0.18,0.5,2.32,2.6,3.45,3.73,2.54,2.05,1.72,-0.33,-2.5,-2.5,-1.88,-1.86,-1.63,-1.04,-1.0,-1.1,-0.66,-0.66,-0.42,-0.33,-0.38,-0.33,-0.82,-1.04,-1.04,-1.33,-2.17,-0.86,2.32,2.87,1.61,1.17,0.84,0.33,0.4,0,-0.42,-0.27,-0.27,-0.11,0.07,-0.29,0.02,0.02,-0.11,0.29,0.66,0.55,1.5,1.2,1.83,3.45,3.69,3.73,2.76,2.6,2.38,2.5,2.32,2.43,2.05,1.94,1.72,1.72,1.79,2.32,3.09,3.16,1.94,1.94,1.79,1.39,0.62,-0.04,-0.27,0,0.5,1.39,1.61,0.84,0.73,1.24,2.23,2.6,3.43,3.05,2.23,2.12,2.17,1.79,1.1,-0.15,-0.13,0.29,0.84,1.06,1.17,0,-0.88,-0.27,0.24,0.07,-0.57,-0.68,-1.41,-1.59,-1.04,0,0.4,0.33,1.0,2.6,2.8,2.96,2.28,2.28,1.5,1.39,1.77,1.68,1.35,1.68,2.12,2.17,2.5,2.23,2.17,2.67,4.0,4.8,5.24,6.1,6.63,5.7,5.04,5.33,4.88,5.86,6.59,5.92,6.92,6.1,5.41,7.54,8.4,9.04,8.55,5.41,4.64,2.94,2.28,2.17,1.17,0.11,0,0.11,0.5,0.22,0,-0.09,-0.27,0,0.18,0,0,0.33,0.13,0,-0.33,0.95,2.8,1.72,0.95,3.18,3.67,3.36,3.18,4.0,4.42,3.82,3.29,2.6,2.56]
d_sig_x = [0.1,2.2,4.1,6.6,9.8,11,13,15.5,18,19.3,21.2,25,30.1,32.6,36.4,39,40.9,43.4,46,49.8,52.3,56.8,58.7,61.8,63.7,66.3,68.8,71.4,75.8,79,82.2,84.1,87.2,89.8,92.3,94.9,97.9,99.7,101.9,104.8,107.9,111.1,114.3,117.8,121.3,123.8,127.6,131.4,135.2,138.4,141.6,144.8,147.3,149.8,152.4,154.3,157.5,160,162.5,165.1,167.6,170.8,174.3,175.9,178.4,180.9,182.8,184.8,187.9,191.1,193.8]
d_sig = [-0.15,-0.66,-0.77,-0.42,0.18,0.62,1.94,2.67,2.72,2.05,0.4,-1.41,-2.14,-1.81,-0.82,-0.49,0.51,1.06,1.06,0.62,0.51,-0.04,-0.38,0.73,2.28,3.05,3.34,3.43,2.54,2.43,1.72,1.5,0.51,0.62,0.46,0.95,1.83,2.5,2.5,1.5,0.84,-0.15,-0.77,-1.33,-0.6,0.51,2.23,2.56,2.76,2.38,3.4,5.39,6.0,6.59,7.07,6.96,8.02,7.14,5.15,3.16,0.84,-1.04,-2.14,-1.97,-0.93,-0.15,0.84,1.39,3.16,4.22,4.22]

# ---- axis labels
h4_ticks = [7,18,27,38,48,55]
h4_ticklabels = ["26 Nov","28 Nov","2 Dec","4 Dec","7 Dec","9 Dec"]
h4_minor = [13,21,32,44,50]
m60_ticks = [8,18,31,41,54,64,77]
m60_ticklabels = ["2 Dec","10:45","3 Dec","10:45","4 Dec","10:45","5 Dec"]
m60_minor = [3,27,50,73]
m15_ticks = [4.17,16.2,28.3,40.2,52.1,64.2,76.1,91.1,104.1,116.3]
m15_ticklabels = ["01:15","04:15","07:15","10:15","13:15","16:15","20:15","5 Dec","03:15","06:15"]
m15_minor = [88.2]
wk_ticks = [5,9,13,18,22,27,31,35,39,44,48,52,57,61,66,70]
wk_ticklabels = ["S","O","N","D","25","F","M","A","M","J","J","A","S","O","N","D"]
d_ticks = [17,38,60,81,104,125,147,170,190,212,233]
d_ticklabels = ["Apr","May","Jun","Jul","Aug","Sep","Oct","Nov","Dec","26","Feb"]
LAST_PRICE = "58.660"

W, H = 2500, 1686
LAV = "#e6e6fa"
GREY_TXT = "#6c6c6c"
TREND = {"y": "#ffff00", "b": "#4169e1", "r": "#dc143c"}
LEVEL = {"t": "#0f8a8a", "d": "#b01116", "s": "#fa7a66"}

sns.set_theme(style="white")
plt.rcParams["font.family"] = ["Liberation Sans", "DejaVu Sans"]

fig = plt.figure(figsize=(W / 100, H / 100), dpi=100, facecolor="#2a2a2e")


def px_axes(left, top, right, bottom):
    return fig.add_axes([left / W, 1 - bottom / H, (right - left) / W, (bottom - top) / H])


back = px_axes(0, 0, W, H)
back.set_xlim(0, W)
back.set_ylim(H, 0)
back.axis("off")
back.set_zorder(0)
over = px_axes(0, 0, W, H)
over.set_xlim(0, W)
over.set_ylim(H, 0)
over.axis("off")
over.patch.set_alpha(0)
over.set_zorder(10)


def pane(left, top, right, bottom, xlim, y1, p1, y2, p2, last=False):
    ax = px_axes(left, top, right, bottom)
    ax.patch.set_alpha(0)
    ax.set_zorder(2)
    per = (p1 - p2) / (y2 - y1)
    ax.set_ylim(p1 - (bottom - y1) * per, p1 + (y1 - top) * per)
    ax.set_xlim(*xlim)
    return ax


def finish(ax, major, labels=None, minor=None, xt=None, xl=None, xminor=None, fmt="%g"):
    ylim = ax.get_ylim()
    xlim = ax.get_xlim()
    ax.yaxis.tick_right()
    ax.set_yticks(major)
    ax.set_yticklabels(labels if labels is not None else [fmt % v for v in major])
    ax.yaxis.set_minor_locator(FixedLocator(minor) if minor else NullLocator())
    ax.tick_params(axis="y", which="both", colors="#8a8a8a", length=4, width=0.8, labelsize=12.8,
                   labelcolor=GREY_TXT, pad=2, right=True, left=False)
    for s in ax.spines.values():
        s.set_visible(False)
    ax.spines["right"].set_visible(True)
    ax.spines["right"].set_color("#8a8a8a")
    ax.spines["right"].set_linewidth(1)
    if xt is not None:
        ax.spines["bottom"].set_visible(True)
        ax.spines["bottom"].set_color("#8a8a8a")
        ax.set_xticks(xt)
        ax.set_xticklabels(xl)
        ax.xaxis.set_minor_locator(FixedLocator(xminor) if xminor else NullLocator())
        ax.tick_params(axis="x", which="both", colors="#8a8a8a", length=4, width=0.8, labelsize=12.8,
                       labelcolor=GREY_TXT, pad=6, bottom=True)
    else:
        ax.set_xticks([])
    ax.set_xlabel("")
    ax.set_ylabel("")
    ax.set_ylim(ylim)
    ax.set_xlim(xlim)


def curve(ax, x, y, color, lw, z=2, **kw):
    sns.lineplot(x=x, y=y, ax=ax, color=color, linewidth=lw, sort=False, estimator=None, errorbar=None,
                 legend=False, zorder=z, **kw)


def area(ax, ux, uy, lx, ly, color, alpha=1.0, z=1):
    ax.fill(np.r_[ux, lx[::-1]], np.r_[uy, ly[::-1]], color=color, alpha=alpha, lw=0, zorder=z)


def candles(ax, o, c, h, l, width, wick=1.2):
    o, c, h, l = map(np.asarray, (o, c, h, l))
    x = np.arange(len(o))
    ax.vlines(x, l, h, color="black", lw=wick, zorder=3)
    colors = np.where(c >= o, "#0d6b14", "#b3201f")
    ax.bar(x, np.abs(c - o), bottom=np.minimum(o, c), width=width, color=colors, edgecolor="black",
           linewidth=0.8, zorder=4)


def ohlc(ax, o, c, h, l, tick):
    o, c, h, l = map(np.asarray, (o, c, h, l))
    x = np.arange(len(o))
    ax.vlines(x, l, h, color="black", lw=1.7, zorder=3)
    ax.hlines(o, x - tick, x, color="black", lw=1.5, zorder=3)
    ax.hlines(c, x, x + tick, color="black", lw=1.5, zorder=3)


def trend(ax, segs, lw=2.8):
    for key, x, y in segs:
        curve(ax, x, y, TREND[key], lw, z=2.8, linestyle=(0, (2.8, 1.4)))


def levels(ax, rows):
    for key, a, b, y in rows:
        curve(ax, [a, b], [y, y], LEVEL[key], 2.1, z=5, linestyle=(0, (1.4, 0.9)))


def arrows(ax, rows):
    for x, tip, base in rows:
        ax.annotate("", xy=(x, tip), xytext=(x, base), zorder=6,
                    arrowprops=dict(arrowstyle="-|>", color="#0000ee", lw=3, mutation_scale=9, shrinkA=0, shrinkB=0))


def hist(ax, values, width):
    vals = np.asarray(values)
    state = np.where(vals >= 2, "up", np.where(vals <= -2, "down", "flat"))
    sns.barplot(x=np.arange(len(vals)), y=vals, hue=state, ax=ax, native_scale=True, dodge=False, width=width,
                palette={"up": "#000080", "down": "#8b0000", "flat": "#c2c2c2"}, saturation=1, linewidth=0,
                legend=False, zorder=2)


def hline(ax, ys):
    for y in ys:
        ax.axhline(y, color="#cfcfd6", lw=1.1, zorder=1)


def sessions(axes, xs):
    for ax in axes:
        for x in xs:
            ax.axvline(x, color="#a2a2a8", lw=0.9, linestyle=(0, (2, 1)), zorder=1.5)


def flag(ax, poly, line1, line2, centre, rx, ry, arrow):
    ax.add_patch(Ellipse(centre, rx, ry, fc=(0.97, 0.96, 0.6, 0.45), ec="#b3201f", lw=2.2, zorder=6.5))
    ax.add_patch(Polygon(poly, closed=True, fc="#f7f59a", alpha=0.45, lw=0, zorder=6))
    for seg in (line1, line2):
        ax.plot(*zip(*seg), color="#b5301f", lw=2.2, zorder=7)
    ax.annotate("", xy=arrow[1], xytext=arrow[0], zorder=7,
                arrowprops=dict(arrowstyle="-|>", color="#b22222", lw=2.2, mutation_scale=20, shrinkA=0, shrinkB=0))


# ---- window chrome
ICON = "#d5d5d5"


def bars_icon(x, y):
    for dx, top, bot in ((-9, -3, 8), (0, -10, 6), (9, -7, 8)):
        back.add_patch(Rectangle((x + dx - 2.5, y + top), 5, bot - top, fc="#c9c9c9", lw=0))
        back.plot([x + dx, x + dx], [y + top - 3, y + bot + 3], color="#c9c9c9", lw=1)


def ohlc_icon(x, y):
    for dx, top, bot in ((-8, -6, 12), (0, -12, 8), (8, -9, 11)):
        back.plot([x + dx, x + dx], [y + top, y + bot], color=ICON, lw=1.4)
        back.plot([x + dx - 3, x + dx], [y + (top + bot) / 2 + 2] * 2, color=ICON, lw=1.2)
        back.plot([x + dx, x + dx + 3], [y + top + 3] * 2, color=ICON, lw=1.2)


def pencil_icon(x, y):
    back.plot([x - 10, x + 9], [y - 11, y + 11], color=ICON, lw=5)
    back.plot([x - 9, x + 8], [y - 10, y + 10], color="#3a3a3e", lw=2)


def lens_icon(x, y, c=ICON):
    back.add_patch(Ellipse((x - 3, y - 4), 17, 17, fc="none", ec=c, lw=1.5))
    back.plot([x + 3, x + 13], [y + 3, y + 13], color=c, lw=3)
    back.plot([x - 7, x + 1], [y - 4, y - 4], color=c, lw=1)
    back.plot([x - 3, x - 3], [y - 8, y], color=c, lw=1)


def doc_icon(x, y):
    back.add_patch(Rectangle((x - 11, y - 13), 18, 26, fc="none", ec=ICON, lw=1.2))
    back.plot([x - 7, x + 1], [y - 5, y - 5], color=ICON, lw=1)
    back.plot([x - 7, x - 1], [y + 6, y + 6], color=ICON, lw=1)
    back.add_patch(Ellipse((x + 5, y + 1), 10, 10, fc="#4c4c4e", ec=ICON, lw=1.2))
    back.plot([x + 8, x + 13], [y + 5, y + 10], color=ICON, lw=1.6)


def layout_icon(x, y):
    back.add_patch(Rectangle((x - 13, y - 12), 14, 7, fc="none", ec=ICON, lw=1.2))
    back.add_patch(Rectangle((x - 13, y - 2), 9, 7, fc="none", ec=ICON, lw=1.2))
    back.add_patch(Rectangle((x + 5, y - 12), 8, 25, fc="none", ec=ICON, lw=1.2))


def chart_icon(x, y):
    for dx, top in ((-7, -2), (-2, -8), (3, -12), (8, -4)):
        back.plot([x + dx, x + dx], [y + top, y + 9], color=ICON, lw=2.2)
    back.plot([x - 12, x - 12, x - 6], [y - 7, y - 13, y - 13], color=ICON, lw=1)
    back.plot([x + 6, x + 12, x + 12], [y + 13, y + 13, y + 7], color=ICON, lw=1)
    back.plot([x - 12, x - 12, x + 12], [y + 4, y + 13, y + 13], color=ICON, lw=1)


def nodes_icon(x, y):
    px_, py_ = [x - 12, x - 3, x + 3, x + 12], [y + 11, y - 5, y + 5, y - 12]
    back.plot(px_, py_, color=ICON, lw=1.3)
    back.scatter(px_, py_, s=22, fc="#4c4c4e", ec=ICON, lw=1, zorder=3)


def clip_icon(x, y):
    back.add_patch(Rectangle((x - 11, y - 11), 22, 25, fc="none", ec=ICON, lw=1.3))
    back.add_patch(Rectangle((x - 5, y - 14), 10, 5, fc="#4c4c4e", ec=ICON, lw=1))
    back.plot([x - 6, x - 1, x + 1, x + 6], [y - 3, y - 3, y + 7, y + 7], color=ICON, lw=1, linestyle=":")


def list_icon(x, y):
    for dy in (-10, 0, 10):
        back.add_patch(Rectangle((x - 12, y + dy - 2.5), 5, 5, fc="none", ec=ICON, lw=1))
        back.plot([x - 3, x + 12], [y + dy, y + dy], color=ICON, lw=1.2)


def window(pl, pr, pb, t0, t1, strip, label_x, combos, combo_texts, buttons, close_red):
    back.add_patch(Rectangle((pl[0], pl[1]), pr - pl[0], pb - pl[1], fc=LAV, lw=0))
    back.add_patch(Rectangle((label_x[0], t0), buttons[-1][1] - label_x[0] + 2, t1 - t0, fc=strip, lw=0))
    back.add_patch(Rectangle((label_x[0], t0), label_x[1] - label_x[0], t1 - t0, fc="#dd3d00", lw=0))
    back.text((label_x[0] + label_x[1]) / 2, (t0 + t1) / 2 + 1, "Chart", color="white", ha="center", va="center",
              fontsize=16.5, family=["Open Sans", "DejaVu Sans"])
    for (a, b), txt in zip(combos, combo_texts):
        back.add_patch(Rectangle((a, t0 + 4), b - a, t1 - t0 - 7, fc="#3c3c44", lw=0))
        back.text(a + 10, (t0 + t1) / 2 + 1, txt, color="#bdbdbd", ha="left", va="center", fontsize=13.4,
                  family=["Open Sans", "DejaVu Sans"])
        back.plot([b - 25, b - 18, b - 11], [(t0 + t1) / 2 - 3, (t0 + t1) / 2 + 4, (t0 + t1) / 2 - 3],
                  color="#e0e0e0", lw=2)
    face = ["#b2b2b2", "#00e600", "#3c3c3c", "#3c3c3c", "#c0392b" if close_red else "#3c3c3c"]
    for i, (a, b) in enumerate(buttons):
        back.add_patch(Rectangle((a, t0 + 4), b - a, t1 - t0 - 8, fc=face[i], ec="#8a8a8a", lw=0.8))
    cy0, cy1, (a, b) = t0 + 9, t1 - 9, buttons[2]
    back.plot([a + 6, b - 6], [cy1, cy1], color="white", lw=2)
    a, b = buttons[3]
    back.add_patch(Rectangle((a + 6, cy0), b - a - 12, cy1 - cy0, fc="none", ec="white", lw=1.5))
    a, b = buttons[4]
    back.plot([a + 6, b - 6], [cy0, cy1], color="white", lw=2.6)
    back.plot([a + 6, b - 6], [cy1, cy0], color="white", lw=2.6)


def caret(x, y):
    back.add_patch(Polygon([(x - 8, y - 4), (x + 8, y - 4), (x, y + 4)], fc="#dcdcdc", lw=0))


btnA = [(623, 648), (654, 679), (685, 709), (716, 740), (747, 771)]
btnB = [(1488, 1513), (1519, 1544), (1549, 1574), (1580, 1605), (1611, 1635)]
btnC = [(2349, 2375), (2380, 2405), (2411, 2436), (2442, 2467), (2472, 2498)]
btnE = [(2350, 2375), (2381, 2405), (2412, 2436), (2443, 2466), (2473, 2498)]
window((13, 51), 765, 831, 1, 37, "#1b1b1f", (1, 79), [(108, 310), (320, 522)], ["SI MAR26", "240 Minute"], btnA, True)
window((786, 51), 1630, 525, 1, 37, "#1b1b1f", (780, 851), [(880, 1083), (1093, 1295)], ["SI 03-26", "60 Minute"], btnB, True)
window((1652, 51), 2492, 525, 1, 37, "#1b1b1f", (1641, 1718), [(1747, 1950), (1959, 2162)], ["SI 03-26", "15 Minute"], btnC, True)
window((13, 893), 765, 1686, 845, 878, "#3e3e41", (1, 79), [(108, 310), (320, 522)], ["SI 03-26", "Weekly"], btnA, False)
window((786, 585), 2492, 1686, 536, 572, "#4c4c4e", (780, 852), [(880, 1083), (1093, 1295)], ["SI 03-26", "Daily"], btnE, False)
bars_icon(556, 20)
caret(603, 20)
bars_icon(556, 862)
caret(603, 862)
ohlc_icon(1327, 20)
pencil_icon(1373, 20)
lens_icon(1418, 20)
caret(1469, 20)
ohlc_icon(2194, 20)
pencil_icon(2240, 20)
lens_icon(2284, 20)
caret(2331, 20)
bars_icon(1328, 554)
pencil_icon(1373, 554)
lens_icon(1418, 554)
lens_icon(1463, 554, "#777777")
back.add_patch(Polygon([(1503, 542), (1503, 564), (1508, 558), (1514, 566), (1517, 564), (1512, 556), (1519, 555)],
                       fc="none", ec=ICON, lw=1.3))
doc_icon(1554, 554)
layout_icon(1600, 554)
chart_icon(1645, 554)
nodes_icon(1690, 554)
clip_icon(1736, 554)
list_icon(1781, 554)

# ---- 240 minute panel
xl = (-0.89, 63.3)
ax = pane(13, 51, 697, 580, xl, 76.6, 60, 554.4, 49)
area(ax, h4_band_up_x, h4_band_up, h4_band_lo_x, h4_band_lo, "#dcdce4")
ax.fill(h4_peach_x, h4_peach, color="#f0cfb8", alpha=0.6, lw=0, zorder=1.1)
area(ax, h4_cloud_up_x, h4_cloud_up, h4_cloud_lo_x, h4_cloud_lo, "#8ab0f0", alpha=0.3, z=1.2)
curve(ax, h4_mid_x, h4_mid, "#b8b8b8", 0.7)
curve(ax, h4_upper_x, h4_upper, "#2a96f5", 1.5, z=2.5)
curve(ax, h4_lower_x, h4_lower, "#2a96f5", 1.5, z=2.5)
trend(ax, h4_trend, 2.8)
candles(ax, h4_open, h4_close, h4_high, h4_low, 0.42)
arrows(ax, h4_arrows)
flag(ax, [(32.9, 60.1), (45.9, 58.13), (45, 57.4), (43.9, 56.19), (31, 58.16)], [(32.9, 60.1), (45.9, 58.13)],
     [(31, 58.16), (43.9, 56.19)], (47.9, 58.06), 6.07, 1.43, ((48.96, 58.19), (52.3, 59.54)))
finish(ax, list(range(49, 61)), labels=["%.3f" % v for v in range(49, 61)], minor=[v + 0.5 for v in range(48, 60)])
ax2 = pane(13, 580, 697, 800, xl, 609.5, 6, 752, 0)
hline(ax2, [0, 2])
hist(ax2, h4_hist, 0.42)
curve(ax2, h4_sig_x, h4_sig, "#000080", 1.4, z=3)
finish(ax2, [-1, 0, 1, 2, 3, 4, 5, 6], labels=["-1", "0", "", "2", "3", "", "5", "6"], xt=h4_ticks, xl=h4_ticklabels, xminor=h4_minor)
sessions([ax, ax2], h4_sessions)

# ---- 60 minute panel
xl = (-1.48, 85.76)
ax = pane(786, 51, 1563, 493.5, xl, 96, 60, 477, 56, last=True)
area(ax, m60_band_up_x, m60_band_up, m60_band_lo_x, m60_band_lo, "#dcdce4")
curve(ax, m60_mid_x, m60_mid, "#b8b8b8", 0.8)
curve(ax, m60_upper_x, m60_upper, "#2a96f5", 1.6, z=2.5)
curve(ax, m60_lower_x, m60_lower, "#2a96f5", 1.6, z=2.5)
trend(ax, m60_trend)
ohlc(ax, m60_open, m60_close, m60_high, m60_low, 0.32)
levels(ax, m60_levels)
arrows(ax, m60_arrows)
sessions([ax], m60_sessions)
finish(ax, [56 + 0.4 * i for i in range(11)], labels=["%.3f" % (56 + 0.4 * i) for i in range(11)],
       minor=[56.2 + 0.4 * i for i in range(11)], xt=m60_ticks, xl=m60_ticklabels, xminor=m60_minor)

# ---- 15 minute panel
xl = (-2.17, 120.2)
ax = pane(1652, 51, 2424, 493.5, xl, 89.6, 59.2, 477, 56.8, last=True)
area(ax, m15_band_up_x, m15_band_up, m15_band_lo_x, m15_band_lo, "#dcdce4")
curve(ax, m15_mid_x, m15_mid, "#b8b8b8", 0.8)
curve(ax, m15_upper_x, m15_upper, "#2a96f5", 1.6, z=2.5)
curve(ax, m15_lower_x, m15_lower, "#2a96f5", 1.6, z=2.5)
trend(ax, m15_trend)
ohlc(ax, m15_open, m15_close, m15_high, m15_low, 0.33)
levels(ax, m15_levels)
sessions([ax], m15_sessions)
finish(ax, [56.8 + 0.2 * i for i in range(13)], labels=["%.3f" % (56.8 + 0.2 * i) for i in range(13)],
       xt=m15_ticks, xl=m15_ticklabels, xminor=m15_minor)

# ---- weekly panel
xl = (-1.76, 73.8)
ax = pane(13, 893, 697, 1450, xl, 967.4, 56, 1417.4, 28)
area(ax, wk_band_up_x, wk_band_up, wk_band_lo_x, wk_band_lo, "#dcdce4")
curve(ax, wk_mid_x, wk_mid, "#c4c4c4", 0.7)
curve(ax, wk_upper_x, wk_upper, "#2a96f5", 1.5, z=2.5)
curve(ax, wk_lower_x, wk_lower, "#2a96f5", 1.5, z=2.5)
trend(ax, wk_trend, 2.6)
candles(ax, wk_open, wk_close, wk_high, wk_low, 0.42)
arrows(ax, wk_arrows)
ax.add_patch(Rectangle((-3, 53.18), 61.9, 1.68, fc="#ececc8", ec="#b3201f", lw=2, zorder=6))
finish(ax, list(range(28, 60, 2)), labels=["%.3f" % v for v in range(28, 60, 2)])
ax2 = pane(13, 1450, 697, 1655, xl, 1479.5, 4.5, 1646.8, -1.5)
hline(ax2, [0, 2])
hist(ax2, wk_hist, 0.42)
curve(ax2, wk_sig_x, wk_sig, "#000080", 1.4, z=3)
finish(ax2, [-1.5 + i for i in range(7)], labels=["%g" % (-1.5 + i) for i in range(7)],
       minor=[-1 + i for i in range(6)], xt=wk_ticks, xl=wk_ticklabels)

# ---- daily panel
xl = (-1.55, 245.7)
ax = pane(786, 585, 2425, 1246, xl, 596.5, 60, 1216.6, 30)
area(ax, d_band_up_x, d_band_up, d_band_lo_x, d_band_lo, "#dcdce4")
ax.fill(d_peach_x, d_peach, color="#f0cfb8", alpha=0.45, lw=0, zorder=1.1)
area(ax, d_cloud1_up_x, d_cloud1_up, d_cloud1_lo_x, d_cloud1_lo, "#8ab0f0", alpha=0.3, z=1.2)
area(ax, d_cloud2_up_x, d_cloud2_up, d_cloud2_lo_x, d_cloud2_lo, "#8ab0f0", alpha=0.3, z=1.2)
curve(ax, d_mid_x, d_mid, "#b4b4b4", 0.7)
curve(ax, d_upper_x, d_upper, "#2a96f5", 1.5, z=2.5)
curve(ax, d_lower_x, d_lower, "#2a96f5", 1.5, z=2.5)
trend(ax, d_trend, 2.6)
candles(ax, d_open, d_close, d_high, d_low, 0.6, wick=1.0)
arrows(ax, d_arrows)
flag(ax, [(176.9, 54.63), (185.1, 51.92), (184.5, 51.0), (181.7, 48.62), (172.9, 51.52)], [(176.9, 54.63), (185.1, 51.92)],
     [(172.9, 51.52), (181.7, 48.62)], (188.8, 51.2), 8.04, 2.58, ((189.85, 51.23), (195.4, 53.33)))
finish(ax, list(range(30, 62, 2)), labels=["%.3f" % v for v in range(30, 62, 2)])
ax2 = pane(786, 1246, 2425, 1451, xl, 1288.3, 2, 1437.7, -2)
hline(ax2, [0])
curve(ax2, d_macd_x, d_macd, "#000080", 1.5, z=3)
curve(ax2, d_macd_sig_x, d_macd_sig, "#a0561c", 1.3, z=2.6)
finish(ax2, [-2, -1, 0, 1, 2], minor=[-1.5, -0.5, 0.5, 1.5, 2.5])
ax3 = pane(786, 1451, 2425, 1656, xl, 1463.3, 9, 1644.3, -3)
hline(ax3, [2, 0, -2])
hist(ax3, d_hist, 0.6)
curve(ax3, d_sig_x, d_sig, "#000080", 1.4, z=3)
finish(ax3, [-3, -1, 1, 3, 5, 7, 9], minor=[-2, 0, 2, 4, 6, 8], xt=d_ticks, xl=d_ticklabels)

# ---- pane separators, captions, last price tags
for x0, x1, y in ((13, 765, 580), (13, 765, 1450), (786, 2492, 1246), (786, 2492, 1451)):
    over.plot([x0, x1], [y, y], color="#bdbdc4", lw=1)

CAP = dict(color=GREY_TXT, va="center", family=["Open Sans", "DejaVu Sans"])
for x, y, text, size in ((25, 104, "Remek!  SI MAR26  240 Minute  2025-12-05 6:08 AM", 12),
                         (27, 131, "3 ATR = 14400 USD", 13),
                         (798, 105, "Remek!  SI MAR26  60 Minute  2025-12-05 6:08 AM", 12.5),
                         (800, 131, "3 ATR = 5725 USD", 13),
                         (1665, 105, "Remek!  SI MAR26  15 Minute  2025-12-05 6:08 AM", 12.5),
                         (1666, 131, "3 ATR = 2500 USD", 13),
                         (25, 947, "Remek!  SI MAR26  Weekly  2025-12-05 6:08 AM", 12.5),
                         (27, 973, "3 ATR = 45725 USD", 13),
                         (802, 650, "Remek!  SI MAR26  Daily  2025-12-05 6:08 AM", 20.4),
                         (801, 683, "3 ATR = 29425 USD", 13.3)):
    over.text(x, y, text, fontsize=size, **CAP)
for x, y in ((17, 784), (789, 480), (1656, 480), (17, 1640), (789, 1640)):
    over.text(x, y, "© 2025 NinjaTrader, LLC", fontsize=12.8, color=GREY_TXT, va="center")

for x0, x1, y in ((692.5, 765, 135), (1558, 1630, 223.6), (2419, 2492, 176.8), (692.5, 765, 924.6), (2419, 2491.5, 624.2)):
    over.add_patch(Polygon([(x0, y), (x0 + 6, y - 10.5), (x1, y - 10.5), (x1, y + 10.5), (x0 + 6, y + 10.5)],
                           fc="#ffff00", ec="#a8a800", lw=0.8, zorder=8))
    over.text((x0 + x1) / 2 + 3, y, LAST_PRICE, color="black", fontsize=12.8, ha="center", va="center", zorder=9)

for x0, x1, y in ((676, 647, 83), (2402, 2373, 618)):
    over.annotate("", xy=(x1, y), xytext=(x0, y),
                  arrowprops=dict(arrowstyle="->", color="#6c6c6c", lw=2.8, mutation_scale=28, shrinkA=0, shrinkB=0))

fig.savefig("out.png", dpi=100, facecolor=fig.get_facecolor())
